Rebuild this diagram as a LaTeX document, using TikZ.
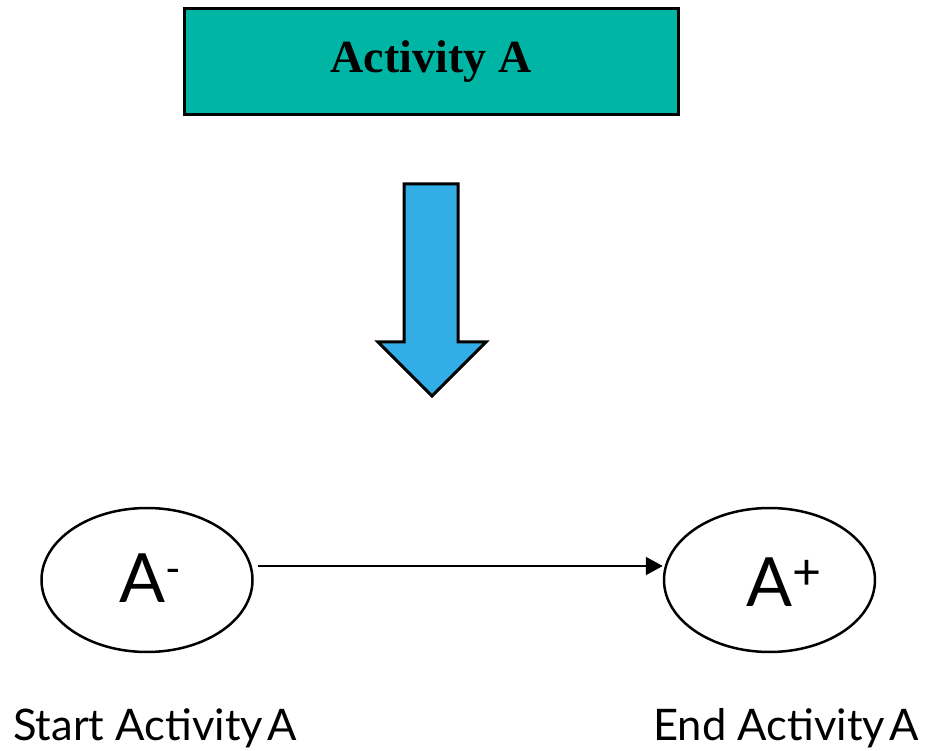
\documentclass[tikz,border=0pt]{standalone}
\usepackage{fontspec}
\setmainfont{Liberation Serif}
\newfontfamily\labelfont{Lato}
\usetikzlibrary{shapes.geometric,arrows.meta}
\definecolor{teal box}{RGB}{0,181,163}
\definecolor{arrow blue}{RGB}{51,173,229}
\begin{document}
\begin{tikzpicture}[x=1pt,y=-1pt,
  titlebox/.style={draw=black,line width=3pt,fill=teal box,inner sep=0pt,
    minimum width=494pt,minimum height=106pt,
    font=\fontsize{46}{46}\selectfont\bfseries},
  eventnode/.style={draw=black,line width=2.5pt,ellipse,inner sep=0pt,
    minimum width=211pt,minimum height=144pt},
  eventlabel/.style={anchor=base west,inner sep=0pt,
    font=\labelfont\fontsize{68}{68}\selectfont},
  caption/.style={inner sep=0pt,
    font=\labelfont\fontsize{43.5}{43.5}\selectfont},
  link/.style={line width=2pt,shorten <=4pt,-{Triangle[length=17pt,width=18pt]}}]
\useasboundingbox (0,0) rectangle (927,751);

% activity box
\node[titlebox] (act) at (431,61.5) {Activity A};

% block arrow: activity becomes two events
\draw[line width=3pt,fill=arrow blue,line join=miter]
  (404,184) -- (458,184) -- (458,342) -- (486,342) -- (432,396)
  -- (378,342) -- (404,342) -- cycle;

% start and end events
\node[eventnode] (start) at (147,580) {};
\node[eventnode] (end) at (769.5,580) {};
\node[eventlabel] (startlbl) at (119,602)
  {A\raisebox{19pt}{\fontsize{42}{42}\selectfont -}};
\node[eventlabel] (endlbl) at (746,606)
  {A\raisebox{17pt}{\fontsize{50}{50}\selectfont +}};

\draw[link] (start.east |- 0,566) -- (end.west |- 0,566);

% captions
\node[caption,anchor=base west] (startcap) at (13,740) {Start Activity\hspace{0.1em}A};
\node[caption,anchor=base east] (endcap) at (919,740) {End Activity\hspace{0.1em}A};
\end{tikzpicture}
\end{document}
